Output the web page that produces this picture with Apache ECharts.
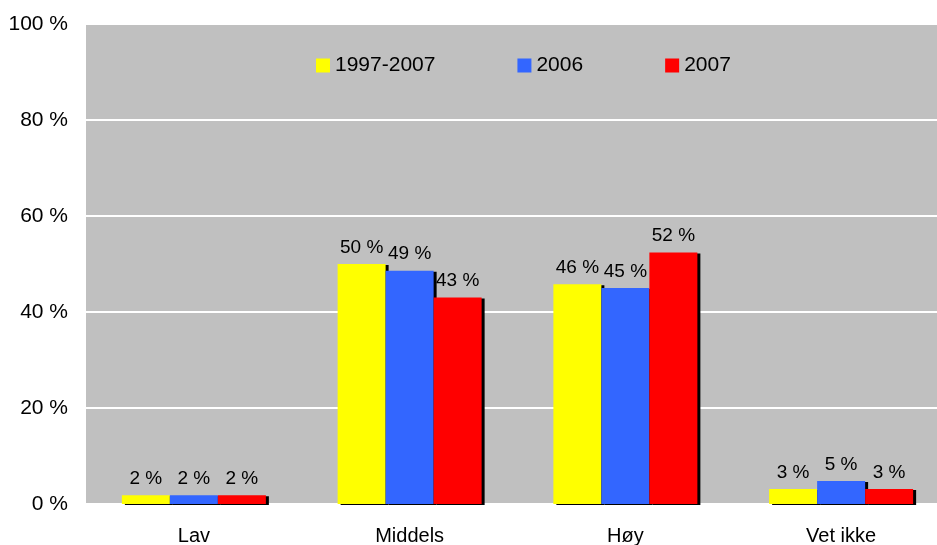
<!DOCTYPE html>
<html>
<head>
<meta charset="utf-8">
<script src="https://cdn.jsdelivr.net/npm/echarts@6/dist/echarts.min.js"></script>
<style>
  html, body { margin: 0; padding: 0; background: #fff; }
  #chart { width: 937px; height: 545px; }
</style>
</head>
<body>
<div id="chart"></div>
<script>
// data
const categories = ['Lav', 'Middels', 'Høy', 'Vet ikke']
const seriesNames = ['1997-2007', '2006', '2007']
const values1997to2007 = [1.8, 50, 45.8, 3.1]
const values2006 = [1.8, 48.6, 45, 4.8]
const values2007 = [1.8, 43, 52.4, 3.1]
const yTicks = [0, 20, 40, 60, 80, 100]

const colors = ['#ffff00', '#3366ff', '#ff0000']
const font = 'Liberation Sans, Arial, sans-serif'

const chart = echarts.init(document.getElementById('chart'))

const makeSeries = (name, data, color) => ({
  name: name,
  type: 'bar',
  data: data,
  barWidth: 48,
  barGap: '0%',
  itemStyle: {
    color: color,
    shadowColor: '#000',
    shadowOffsetX: 3,
    shadowOffsetY: 1,
    shadowBlur: 0
  },
  label: {
    show: true,
    position: 'top',
    distance: 7,
    color: '#000',
    fontFamily: font,
    fontSize: 19,
    formatter: p => Math.round(p.value) + ' %'
  }
})

chart.setOption({
  animation: false,
  color: colors,
  grid: {
    left: 86,
    width: 863,
    top: 24,
    bottom: 41,
    containLabel: false,
    outerBoundsMode: 'none',
    show: true,
    backgroundColor: '#c0c0c0',
    borderWidth: 0
  },
  legend: {
    data: seriesNames,
    left: 311,
    top: 50,
    itemWidth: 14,
    itemHeight: 14,
    itemGap: 82,
    icon: 'rect',
    textStyle: { fontFamily: font, fontSize: 21, color: '#000' }
  },
  xAxis: {
    type: 'category',
    data: categories,
    axisLine: { show: false },
    axisTick: { show: false },
    axisLabel: { color: '#000', fontFamily: font, fontSize: 20, margin: 22 }
  },
  yAxis: {
    type: 'value',
    min: yTicks[0],
    max: yTicks[yTicks.length - 1],
    interval: 20,
    axisLine: { show: false },
    axisTick: { show: false },
    axisLabel: {
      color: '#000',
      fontFamily: font,
      fontSize: 21,
      margin: 18,
      formatter: v => v + ' %'
    },
    splitLine: { lineStyle: { color: '#fff', width: 2 } }
  },
  series: [
    makeSeries(seriesNames[0], values1997to2007, colors[0]),
    makeSeries(seriesNames[1], values2006, colors[1]),
    makeSeries(seriesNames[2], values2007, colors[2])
  ]
})
</script>
</body>
</html>
